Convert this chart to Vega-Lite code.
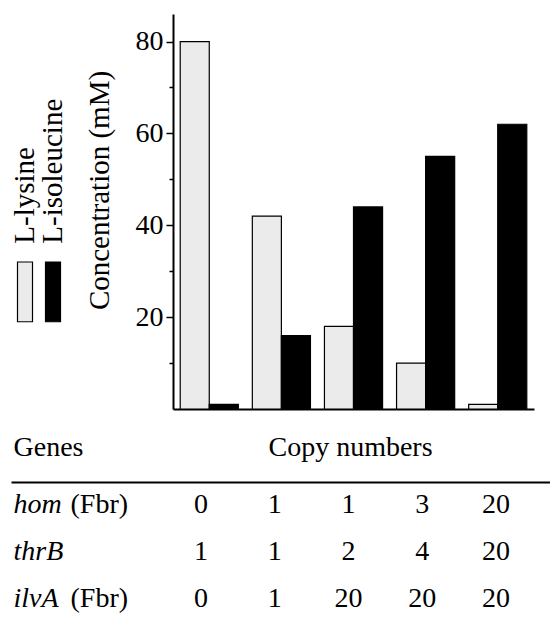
{
  "$schema": "https://vega.github.io/schema/vega-lite/v6.json",
  "background": "white",
  "padding": {"left": 10, "top": 14, "right": 0, "bottom": 0},
  "config": {
    "font": "Liberation Serif",
    "text": {"font": "Liberation Serif"},
    "view": {"stroke": null},
    "axis": {"grid": false, "labelFont": "Liberation Serif", "titleFont": "Liberation Serif", "labelColor": "black", "titleColor": "black", "domainColor": "black", "tickColor": "black", "titleFontWeight": "normal", "labelFontSize": 28, "titleFontSize": 28}
  },
  "datasets": {
    "bars": [
      {"group": "1", "series": "L-lysine", "value": 80},
      {"group": "1", "series": "L-isoleucine", "value": 1},
      {"group": "2", "series": "L-lysine", "value": 42},
      {"group": "2", "series": "L-isoleucine", "value": 16},
      {"group": "3", "series": "L-lysine", "value": 18},
      {"group": "3", "series": "L-isoleucine", "value": 44},
      {"group": "4", "series": "L-lysine", "value": 10},
      {"group": "4", "series": "L-isoleucine", "value": 55},
      {"group": "5", "series": "L-lysine", "value": 1},
      {"group": "5", "series": "L-isoleucine", "value": 62}
    ],
    "legend": [
      {"series": "L-lysine"},
      {"series": "L-isoleucine"}
    ],
    "table": [
      {"gene": "hom (Fbr)", "strain": 1, "copies": "0"},
      {"gene": "hom (Fbr)", "strain": 2, "copies": "1"},
      {"gene": "hom (Fbr)", "strain": 3, "copies": "1"},
      {"gene": "hom (Fbr)", "strain": 4, "copies": "3"},
      {"gene": "hom (Fbr)", "strain": 5, "copies": "20"},
      {"gene": "thrB", "strain": 1, "copies": "1"},
      {"gene": "thrB", "strain": 2, "copies": "1"},
      {"gene": "thrB", "strain": 3, "copies": "2"},
      {"gene": "thrB", "strain": 4, "copies": "4"},
      {"gene": "thrB", "strain": 5, "copies": "20"},
      {"gene": "ilvA (Fbr)", "strain": 1, "copies": "0"},
      {"gene": "ilvA (Fbr)", "strain": 2, "copies": "1"},
      {"gene": "ilvA (Fbr)", "strain": 3, "copies": "20"},
      {"gene": "ilvA (Fbr)", "strain": 4, "copies": "20"},
      {"gene": "ilvA (Fbr)", "strain": 5, "copies": "20"}
    ]
  },
  "vconcat": [
    {
      "hconcat": [
        {
          "width": 56,
          "height": 395,
          "data": {"name": "legend"},
          "encoding": {
            "x": {"field": "series", "type": "nominal", "sort": null, "scale": {"paddingInner": 0.464, "paddingOuter": 0.232}, "axis": null}
          },
          "layer": [
            {
              "mark": {"type": "bar", "stroke": "black", "strokeWidth": 1.2},
              "encoding": {
                "y": {"datum": 19, "type": "quantitative", "scale": {"domain": [0, 86], "nice": false}, "axis": null},
                "y2": {"datum": 32},
                "fill": {"field": "series", "type": "nominal", "scale": {"domain": ["L-lysine", "L-isoleucine"], "range": ["#ebebeb", "black"]}, "legend": null}
              }
            },
            {
              "mark": {"type": "text", "angle": 270, "align": "left", "baseline": "middle", "fontSize": 29, "font": "Liberation Serif", "color": "black"},
              "encoding": {
                "y": {"datum": 36, "type": "quantitative"},
                "text": {"field": "series"}
              }
            }
          ]
        },
        {
          "width": 361,
          "height": 395,
          "data": {"name": "bars"},
          "mark": {"type": "bar", "stroke": "black", "strokeWidth": 1.2},
          "encoding": {
            "x": {"field": "group", "type": "nominal", "sort": null, "scale": {"paddingInner": 0.194, "paddingOuter": 0.1}, "axis": {"title": null, "labels": false, "ticks": false, "domainWidth": 2}},
            "xOffset": {"field": "series", "type": "nominal", "sort": ["L-lysine", "L-isoleucine"], "scale": {"paddingInner": 0, "paddingOuter": 0}},
            "y": {
              "field": "value", "type": "quantitative",
              "scale": {"domain": [0, 86], "nice": false},
              "axis": {
                "values": [10, 20, 30, 40, 50, 60, 70, 80],
                "labelExpr": "datum.value % 20 === 0 ? datum.label : ''",
                "tickSize": {"condition": {"test": "datum.value % 20 === 0", "value": 7}, "value": 4},
                "tickWidth": 1.5,
                "domainWidth": 2,
                "labelPadding": 3,
                "labelFontSize": 28,
                "title": "Concentration (mM)",
                "titleFontSize": 29,
                "titleAngle": 270,
                "titleX": -65,
                "titleY": 176,
                "titleAlign": "center",
                "titleBaseline": "alphabetic"
              }
            },
            "fill": {"field": "series", "type": "nominal", "scale": {"domain": ["L-lysine", "L-isoleucine"], "range": ["#ebebeb", "black"]}, "legend": null}
          }
        }
      ],
      "spacing": 106,
      "bounds": "flush"
    },
    {
      "width": 540,
      "height": 135,
      "data": {"name": "table"},
      "layer": [
        {
          "mark": {"type": "text", "fontSize": 28, "font": "Liberation Serif", "baseline": "alphabetic", "align": "center", "color": "black"},
          "encoding": {
            "x": {
              "field": "strain", "type": "quantitative",
              "scale": {"domain": [-1.576, 5.746], "nice": false, "zero": false},
              "axis": {"orient": "top", "labels": false, "ticks": false, "domainWidth": 2, "title": "Copy numbers", "titleX": 339, "titleY": -27, "titleAlign": "center", "titleBaseline": "alphabetic"}
            },
            "y": {
              "field": "gene", "type": "nominal", "sort": ["hom (Fbr)", "thrB", "ilvA (Fbr)"],
              "scale": {"type": "point", "padding": 0.436, "align": 0.756},
              "axis": {"domain": false, "ticks": false, "labelAlign": "left", "labelPadding": -2, "labelFontStyle": "italic", "labelBaseline": "alphabetic", "labelExpr": "split(datum.label, ' ')[0]", "title": "Genes", "titleAngle": 0, "titleX": 2, "titleY": -27, "titleAlign": "left", "titleBaseline": "alphabetic"}
            },
            "text": {"field": "copies"}
          }
        },
        {
          "mark": {"type": "text", "text": ""},
          "encoding": {
            "y": {
              "field": "gene", "type": "nominal", "sort": ["hom (Fbr)", "thrB", "ilvA (Fbr)"],
              "axis": {"orient": "left", "domain": false, "ticks": false, "labelAlign": "left", "labelPadding": -59, "labelBaseline": "alphabetic", "labelExpr": "indexof(datum.label, '(Fbr)') >= 0 ? '(Fbr)' : ''", "title": null}
            }
          }
        }
      ],
      "resolve": {"axis": {"y": "independent"}}
    }
  ],
  "spacing": 23
}
